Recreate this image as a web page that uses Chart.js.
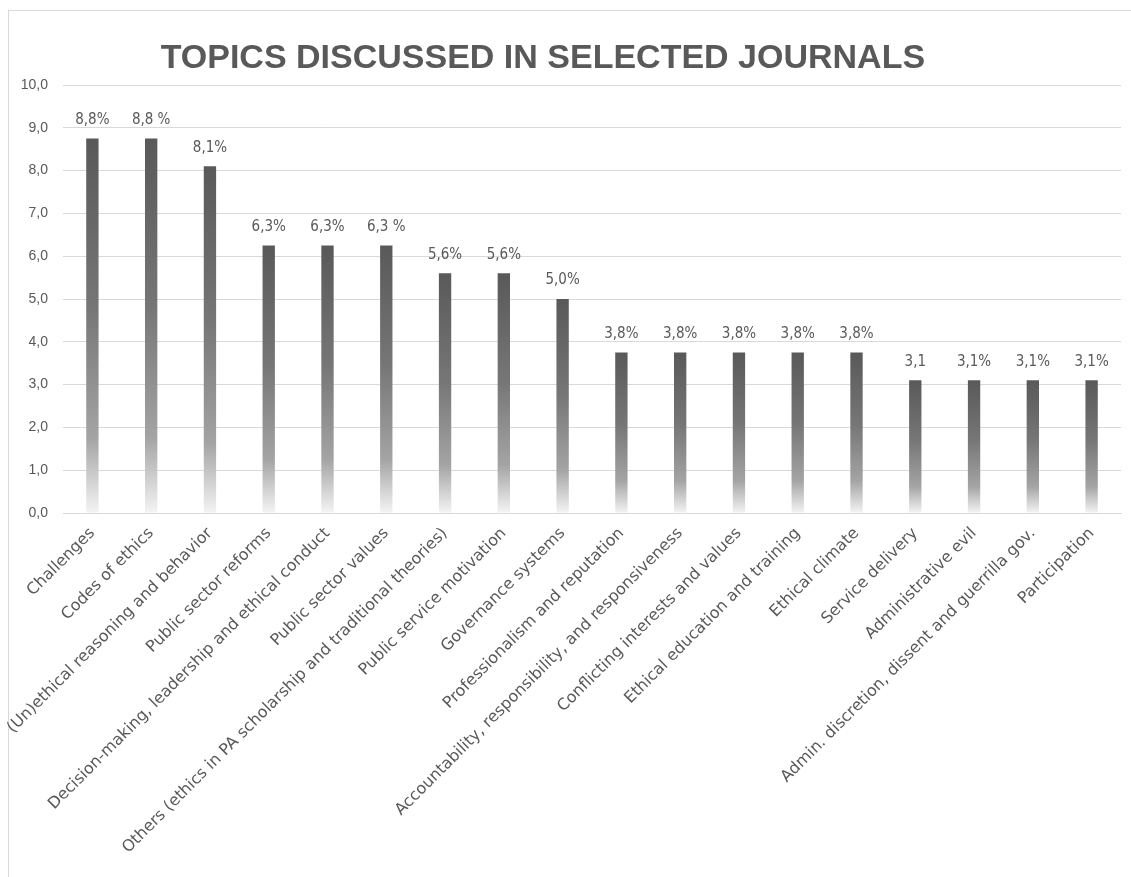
<!DOCTYPE html>
<html>
<head>
<meta charset="utf-8">
<script src="https://cdn.jsdelivr.net/npm/chart.js@4/dist/chart.umd.min.js"></script>
<style>
  html, body { margin: 0; padding: 0; background: #fff; overflow: hidden; }
  #frame { position: absolute; left: 8px; top: 10px; width: 1200px; height: 900px; border: 1px solid #d9d9d9; }
  #wrap { position: absolute; left: 0; top: 0; width: 1131px; height: 877px; }
</style>
</head>
<body>
<div id="frame"></div>
<div id="wrap"><canvas id="chart"></canvas></div>
<script>
// topics and their share (%)
let topics = [
    "Challenges",
    "Codes of ethics",
    "(Un)ethical reasoning and behavior",
    "Public sector reforms",
    "Decision-making, leadership and ethical conduct",
    "Public sector values",
    "Others (ethics in PA scholarship and traditional theories)",
    "Public service motivation",
    "Governance systems",
    "Professionalism and reputation",
    "Accountability, responsibility, and responsiveness",
    "Conflicting interests and values",
    "Ethical education and training",
    "Ethical climate",
    "Service delivery",
    "Administrative evil",
    "Admin. discretion, dissent and guerrilla gov.",
    "Participation"
];
let shares = [8.75, 8.75, 8.1, 6.25, 6.25, 6.25, 5.6, 5.6, 5.0, 3.75, 3.75, 3.75, 3.75, 3.75, 3.1, 3.1, 3.1, 3.1];
let share_labels = ["8,8%", "8,8 %", "8,1%", "6,3%", "6,3%", "6,3 %", "5,6%", "5,6%", "5,0%",
    "3,8%", "3,8%", "3,8%", "3,8%", "3,8%", "3,1", "3,1%", "3,1%", "3,1%"];
let y_ticks = [0, 1, 2, 3, 4, 5, 6, 7, 8, 9, 10];
let title = 'TOPICS DISCUSSED IN SELECTED JOURNALS';

const txt = '#595959';

// each bar fades from dark grey at its top down to almost white at the base
function barFill(c) {
    let chart = c.chart;
    if (!chart.chartArea || c.type !== 'data') return '#595959';
    let y = chart.scales.y;
    let top = y.getPixelForValue(shares[c.dataIndex]);
    let base = y.getPixelForValue(0);
    let g = chart.ctx.createLinearGradient(0, top, 0, base);
    g.addColorStop(0, '#595959');
    g.addColorStop(0.45, '#767676');
    g.addColorStop(0.8, '#a4a4a4');
    g.addColorStop(1, '#f4f4f4');
    return g;
}

const valueLabels = {
    id: 'valueLabels',
    afterDatasetsDraw(chart) {
        let ctx = chart.ctx;
        let meta = chart.getDatasetMeta(0);
        ctx.save();
        ctx.font = '15px "Liberation Sans Narrow", "DejaVu Sans Condensed", sans-serif';
        ctx.fillStyle = txt;
        ctx.textAlign = 'center';
        ctx.textBaseline = 'bottom';
        meta.data.forEach(function (bar, i) {
            ctx.fillText(share_labels[i], bar.x, bar.y - 11);
        });
        ctx.restore();
    }
};

// title sits a little left of centre in the original
const chartTitle = {
    id: 'chartTitle',
    afterDraw(chart) {
        let ctx = chart.ctx;
        ctx.save();
        ctx.font = 'bold 34px "Liberation Sans", Arial, sans-serif';
        ctx.fillStyle = txt;
        ctx.textAlign = 'center';
        ctx.textBaseline = 'alphabetic';
        ctx.fillText(title, chart.width * 0.48, 68);
        ctx.restore();
    }
};

let chart = new Chart(document.getElementById('chart').getContext('2d'), {
    type: 'bar',
    data: {
        labels: topics,
        datasets: [{
            data: shares,
            backgroundColor: barFill,
            borderWidth: 0,
            barPercentage: 0.21,
            categoryPercentage: 1
        }]
    },
    options: {
        responsive: true,
        maintainAspectRatio: false,
        animation: false,
        layout: {padding: {left: 0, right: 10, top: 85, bottom: 0}},
        plugins: {
            legend: {display: false},
            tooltip: {enabled: false},
            title: {display: false}
        },
        scales: {
            x: {
                grid: {display: false},
                border: {color: '#d9d9d9'},
                ticks: {
                    color: txt,
                    autoSkip: false,
                    minRotation: 45,
                    maxRotation: 45,
                    font: {family: '"DejaVu Sans", sans-serif', size: 16}
                },
                afterFit: function (s) { s.height = 364; }
            },
            y: {
                min: 0,
                max: 10,
                afterBuildTicks: function (s) { s.ticks = y_ticks.map(v => ({value: v})); },
                grid: {color: '#d9d9d9', drawTicks: false},
                border: {display: false},
                ticks: {
                    color: txt,
                    padding: 15,
                    font: {family: '"Liberation Sans", Arial, sans-serif', size: 14},
                    callback: function (v) { return v.toFixed(1).replace('.', ','); }
                },
                afterFit: function (s) { s.width = 63; }
            }
        }
    },
    plugins: [valueLabels, chartTitle]
});
</script>
</body>
</html>
